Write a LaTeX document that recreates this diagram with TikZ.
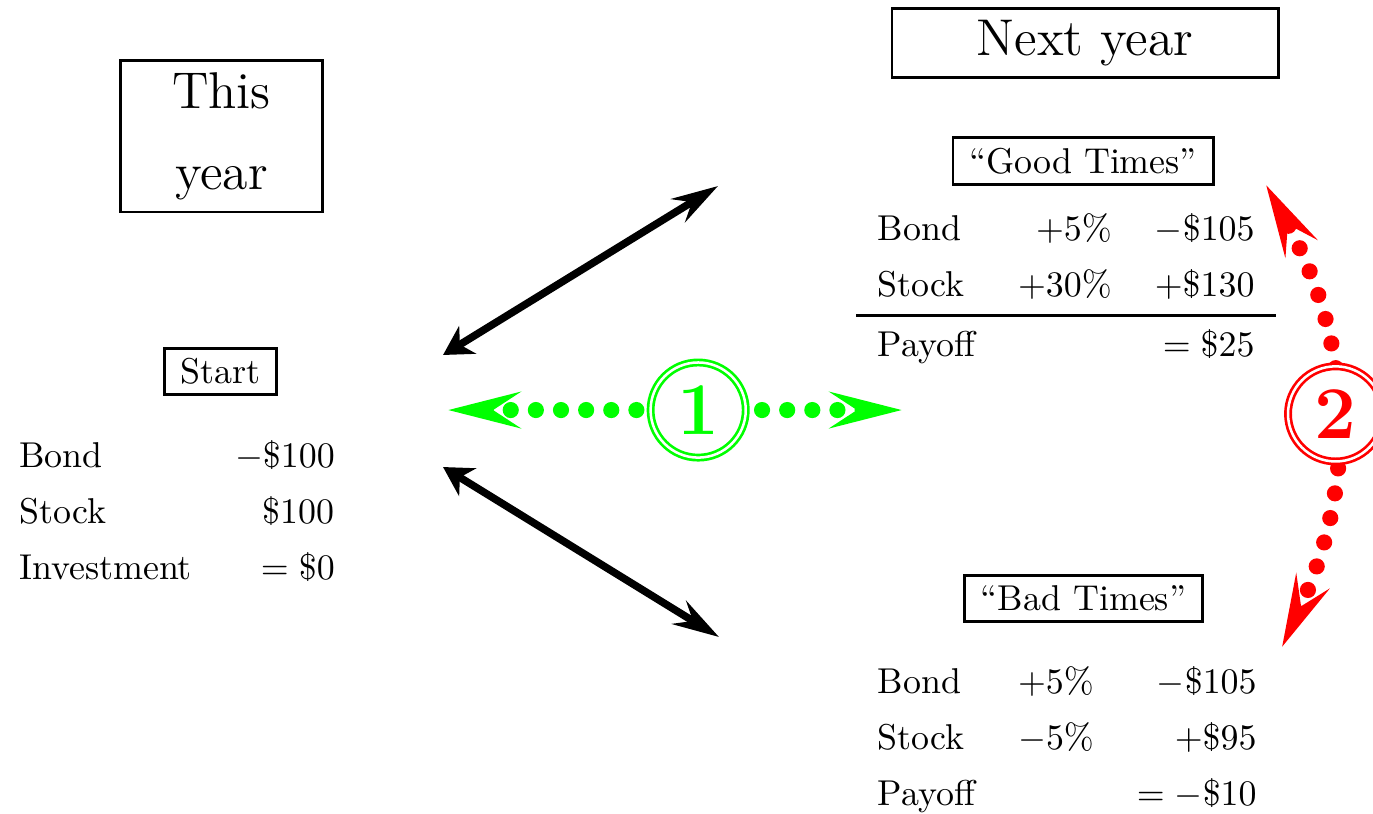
\documentclass[tikz,border=0pt]{standalone}
\usetikzlibrary{arrows.meta}
\renewcommand{\arraystretch}{1.3}
\setlength{\arrayrulewidth}{1pt}
\tikzset{
	box/.style={draw, thick, inner xsep=4.5pt, inner ysep=2.8pt},
	bigbox/.style={draw, thick, font=\Large, align=center},
	tab/.style={inner sep=0pt},
	move/.style={line width=2.1pt, {Stealth[length=8pt,width=9pt,inset=2.5pt]}-{Stealth[length=13pt,width=7.5pt,inset=4.5pt]}},
	dots/.style={line width=4.5pt, line cap=round, dash pattern=on 0pt off 7pt,
		{Stealth[length=20pt,width=10pt,inset=7.5pt]}-{Stealth[length=20pt,width=10pt,inset=7.5pt]}},
	ring/.style={circle, draw, fill=white, double, solid, line width=0.75pt, double distance=0.7pt,
		minimum size=26.5pt, inner sep=0pt, font=\huge\bfseries}
}
\begin{document}
\begin{tikzpicture}
	\useasboundingbox (0,0) rectangle (13.441,-7.959);

	% this year
	\node[bigbox, text width=1.75cm] (this) at (2.168,-1.336) {This\\[4.5pt]year};
	\node[box] (start) at (2.159,-3.637) {Start};
	\node[tab, anchor=north east] (now) at (3.495,-4.190) {%
		\begin{tabular}{lr}
			Bond & $-\$100$ \\
			Stock & \$100 \\
			Investment & $=\$0$
		\end{tabular}};

	% next year
	\node[bigbox, minimum width=3.78cm] (next) at (10.622,-0.421) {Next year};
	\node[box] (good) at (10.602,-1.576) {“Good Times”};
	\node[tab, anchor=north west] (goodtab) at (8.375,-1.968) {%
		\begin{tabular}{lrr}
			Bond & $+5\%$ & $-\$105$ \\
			Stock & $+30\%$ & $+\$130$ \\ \hline
			Payoff & & $=\$25$
		\end{tabular}};
	\node[box] (bad) at (10.607,-5.859) {“Bad Times”};
	\node[tab, anchor=north west] (badtab) at (8.375,-6.402) {%
		\begin{tabular}{lrr}
			Bond & $+5\%$ & $-\$105$ \\
			Stock & $-5\%$ & $+\$95$ \\
			Payoff & & $=-\$10$
		\end{tabular}};

	% arrows
	\coordinate (u1) at (4.337,-3.475);
	\coordinate (u2) at (7.029,-1.821);
	\coordinate (d1) at (4.337,-4.572);
	\coordinate (d2) at (7.039,-6.236);
	\draw[move] (u1) -- (u2);
	\draw[move] (d1) -- (d2);

	\coordinate (g1) at (4.386,-4.014);
	\coordinate (g2) at (8.830,-4.014);
	\draw[dots, green] (g1) -- node[ring, pos=0.551] (one) {1} (g2);

	\coordinate (r1) at (12.550,-6.334);
	\coordinate (r2) at (12.394,-1.811);
	\draw[dots, red] (r1) to[bend right=27] node[ring] (two) {2} (r2);
\end{tikzpicture}
\end{document}
